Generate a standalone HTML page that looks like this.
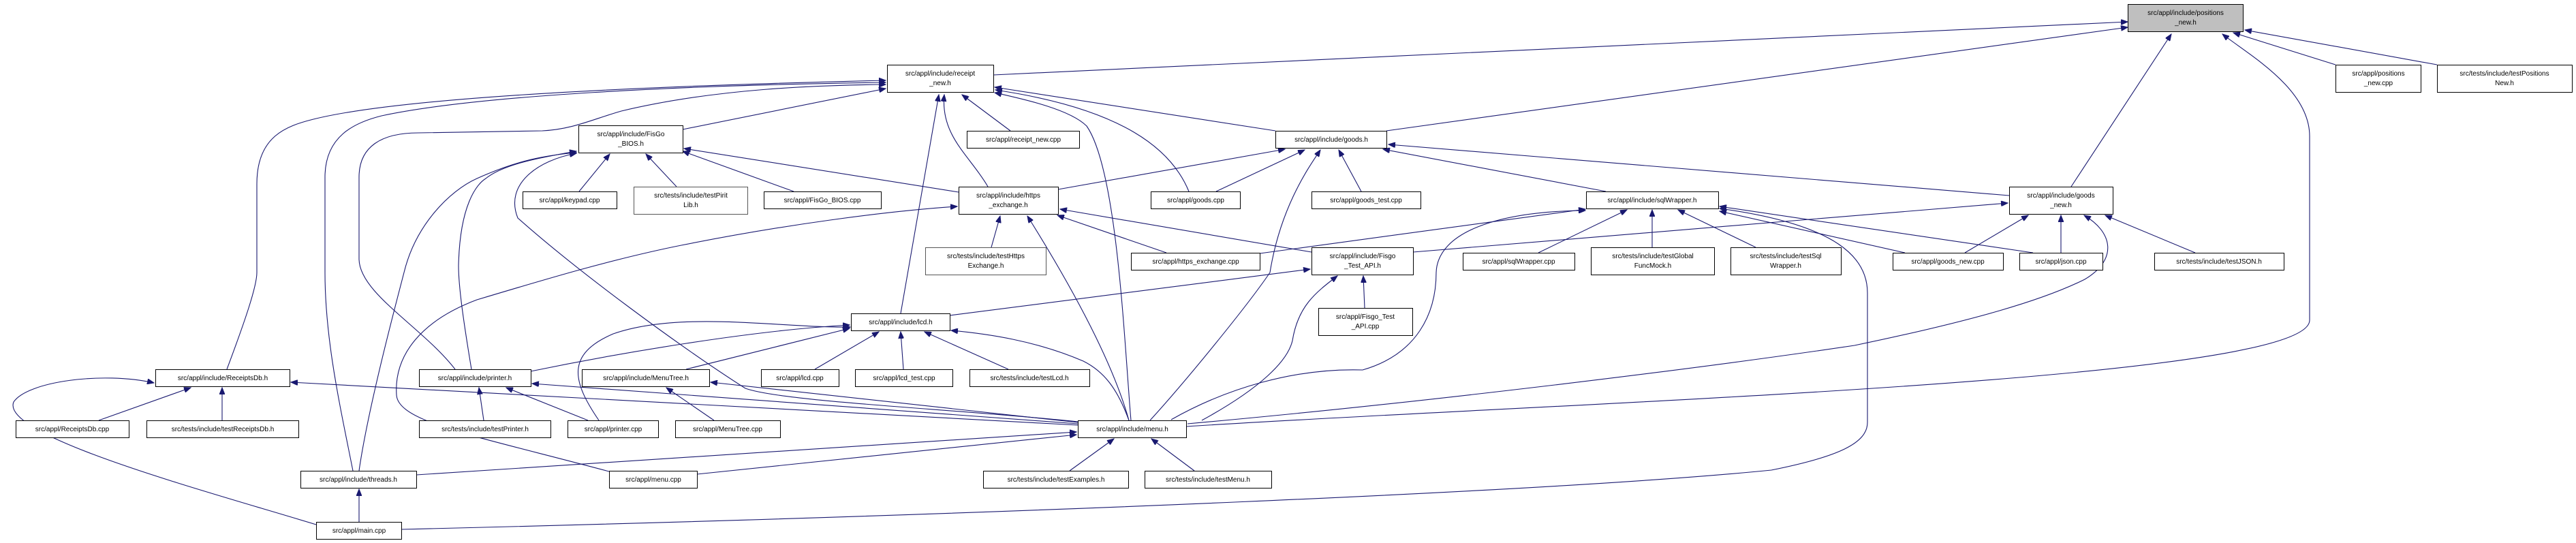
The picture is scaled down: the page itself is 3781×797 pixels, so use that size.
<!DOCTYPE html>
<html><head><meta charset="utf-8"><style>
html,body{margin:0;padding:0;background:#fff;}
svg{display:block;}
text{font-family:"Liberation Sans",sans-serif;font-size:10px;fill:#000;text-anchor:middle;}
.e{fill:none;stroke:#191970;stroke-width:1.1;marker-end:url(#a);}
.n{fill:#fff;stroke:#000;stroke-width:1;}
</style></head><body>
<svg width="3781" height="797" viewBox="0 0 3781 797" xmlns="http://www.w3.org/2000/svg">
<defs><marker id="a" markerUnits="userSpaceOnUse" markerWidth="11" markerHeight="8" refX="10" refY="4" orient="auto"><path d="M0,0 L10,4 L0,8 z" fill="#191970" stroke="#191970"/></marker></defs>
<g>
<path class="e" d="M1458,110 L3123,32"/>
<path class="e" d="M2035,192 L3123,40"/>
<path class="e" d="M3040,274 L3187,50"/>
<path class="e" d="M1741,626 C2300,590 3390,560 3390,470 L3390,200 C3390,130 3300,80 3262,50"/>
<path class="e" d="M3428,95 L3278,48"/>
<path class="e" d="M3577,95 L3295,44"/>
<path class="e" d="M1002,190 L1300,130"/>
<path class="e" d="M333,542 C360,470 377,420 377,400 L377,270 C377,200 420,185 460,175 C600,140 1000,125 1300,118"/>
<path class="e" d="M518,691 C500,600 477,500 477,400 L477,260 C477,200 520,180 560,170 C700,140 1000,125 1300,121"/>
<path class="e" d="M668,542 C620,480 527,430 527,380 L527,260 C527,215 560,195 614,195 L796,192 C840,190 870,175 912,163 C1050,130 1200,125 1300,124"/>
<path class="e" d="M1483,192 L1412,139"/>
<path class="e" d="M1322,460 L1378,139"/>
<path class="e" d="M1450,274 C1425,230 1380,200 1386,139"/>
<path class="e" d="M1872,192 L1460,128"/>
<path class="e" d="M1745,281 C1720,220 1650,160 1461,132"/>
<path class="e" d="M1660,617 C1650,500 1640,250 1595,185 C1570,160 1500,145 1460,136"/>
<path class="e" d="M850,281 L895,226"/>
<path class="e" d="M993,274 L948,226"/>
<path class="e" d="M1165,281 L1002,222"/>
<path class="e" d="M1407,282 L1004,218"/>
<path class="e" d="M692,542 C680,470 673,420 673,390 C675,300 700,270 713,262 C740,240 800,230 846,222"/>
<path class="e" d="M527,691 C540,600 580,450 593,400 C610,330 660,280 700,262 C760,235 800,228 846,224"/>
<path class="e" d="M1582,619 C1400,600 1150,590 1094,570 C1000,510 850,400 760,320 C740,270 790,235 846,225"/>
<path class="e" d="M1553,278 L1886,219"/>
<path class="e" d="M1455,363 L1468,317"/>
<path class="e" d="M1657,617 C1630,520 1560,400 1508,317"/>
<path class="e" d="M1712,371 L1552,316"/>
<path class="e" d="M1925,370 L1556,307"/>
<path class="e" d="M894,692 C700,640 585,620 582,580 C578,520 620,470 700,440 C800,410 900,380 1000,360 C1150,330 1300,310 1405,303"/>
<path class="e" d="M1785,281 L1915,220"/>
<path class="e" d="M1998,281 L1965,220"/>
<path class="e" d="M1688,617 C1740,560 1830,450 1864,400 C1880,300 1925,240 1938,220"/>
<path class="e" d="M2357,281 L2030,219"/>
<path class="e" d="M2949,287 L2038,212"/>
<path class="e" d="M1849,372 L2327,307"/>
<path class="e" d="M1719,616 C1800,570 1900,540 2000,543 C2080,520 2108,460 2108,400 C2110,340 2200,310 2327,309"/>
<path class="e" d="M2258,371 L2388,308"/>
<path class="e" d="M2425,363 L2425,308"/>
<path class="e" d="M2577,363 L2463,308"/>
<path class="e" d="M2796,371 L2524,310"/>
<path class="e" d="M2984,371 L2524,303"/>
<path class="e" d="M589,777 C1500,755 2300,720 2600,690 C2700,670 2741,650 2741,620 L2741,430 C2741,380 2700,330 2524,306"/>
<path class="e" d="M2884,371 L2977,316"/>
<path class="e" d="M3025,371 L3025,316"/>
<path class="e" d="M1743,622 C2100,590 2500,540 2722,507 C2900,470 3000,440 3060,410 C3110,380 3100,340 3059,316"/>
<path class="e" d="M3222,371 L3090,316"/>
<path class="e" d="M2074,370 L2947,298"/>
<path class="e" d="M2003,452 L2001,405"/>
<path class="e" d="M1394,463 L1923,395"/>
<path class="e" d="M1764,617 C1850,570 1890,530 1897,500 C1905,450 1930,430 1963,405"/>
<path class="e" d="M779,545 C900,520 1100,485 1247,477"/>
<path class="e" d="M1007,542 L1247,482"/>
<path class="e" d="M879,617 C840,560 830,520 900,490 C1000,455 1150,482 1248,480"/>
<path class="e" d="M1196,542 L1290,487"/>
<path class="e" d="M1326,542 L1322,487"/>
<path class="e" d="M1480,542 L1357,487"/>
<path class="e" d="M1657,617 C1640,570 1620,545 1590,530 C1520,500 1450,490 1396,485"/>
<path class="e" d="M710,617 L703,569"/>
<path class="e" d="M863,617 L743,569"/>
<path class="e" d="M1582,622 L781,563"/>
<path class="e" d="M145,617 L280,569"/>
<path class="e" d="M326,617 L326,569"/>
<path class="e" d="M464,770 C300,720 0,640 20,590 C40,560 150,545 226,562"/>
<path class="e" d="M1582,624 L427,561"/>
<path class="e" d="M1048,617 L978,569"/>
<path class="e" d="M1582,620 L1043,561"/>
<path class="e" d="M527,766 L527,718"/>
<path class="e" d="M611,697 L1580,634"/>
<path class="e" d="M1023,696 L1580,638"/>
<path class="e" d="M1570,691 L1635,644"/>
<path class="e" d="M1753,691 L1690,644"/>
</g>
<g>
<rect class="n" x="3123.5" y="6.5" width="169" height="40" style="fill:#bfbfbf"/><text x="3208" y="22">src/appl/include/positions</text><text x="3208" y="36">_new.h</text>
<rect class="n" x="3428.5" y="95.5" width="125" height="40"/><text x="3491" y="111">src/appl/positions</text><text x="3491" y="125">_new.cpp</text>
<rect class="n" x="3577.5" y="95.5" width="198" height="40"/><text x="3676" y="111">src/tests/include/testPositions</text><text x="3676" y="125">New.h</text>
<rect class="n" x="1302.5" y="95.5" width="156" height="40"/><text x="1380" y="111">src/appl/include/receipt</text><text x="1380" y="125">_new.h</text>
<rect class="n" x="1419.5" y="192.5" width="165" height="25"/><text x="1502" y="208">src/appl/receipt_new.cpp</text>
<rect class="n" x="1872.5" y="192.5" width="163" height="25"/><text x="1954" y="208">src/appl/include/goods.h</text>
<rect class="n" x="849.5" y="184.5" width="153" height="40"/><text x="926" y="200">src/appl/include/FisGo</text><text x="926" y="214">_BIOS.h</text>
<rect class="n" x="767.5" y="281.5" width="138" height="25"/><text x="836" y="297">src/appl/keypad.cpp</text>
<rect class="n" x="930.5" y="274.5" width="167" height="40" style="stroke:#555"/><text x="1014" y="290">src/tests/include/testPirit</text><text x="1014" y="304">Lib.h</text>
<rect class="n" x="1121.5" y="281.5" width="172" height="25"/><text x="1207" y="297">src/appl/FisGo_BIOS.cpp</text>
<rect class="n" x="1407.5" y="274.5" width="146" height="40"/><text x="1480" y="290">src/appl/include/https</text><text x="1480" y="304">_exchange.h</text>
<rect class="n" x="1689.5" y="281.5" width="131" height="25"/><text x="1755" y="297">src/appl/goods.cpp</text>
<rect class="n" x="1925.5" y="281.5" width="160" height="25"/><text x="2005" y="297">src/appl/goods_test.cpp</text>
<rect class="n" x="2328.5" y="281.5" width="194" height="25"/><text x="2425" y="297">src/appl/include/sqlWrapper.h</text>
<rect class="n" x="2949.5" y="274.5" width="152" height="40"/><text x="3025" y="290">src/appl/include/goods</text><text x="3025" y="304">_new.h</text>
<rect class="n" x="1358.5" y="363.5" width="177" height="40" style="stroke:#555"/><text x="1447" y="379">src/tests/include/testHttps</text><text x="1447" y="393">Exchange.h</text>
<rect class="n" x="1660.5" y="371.5" width="189" height="25"/><text x="1755" y="387">src/appl/https_exchange.cpp</text>
<rect class="n" x="1925.5" y="363.5" width="149" height="40"/><text x="2000" y="379">src/appl/include/Fisgo</text><text x="2000" y="393">_Test_API.h</text>
<rect class="n" x="2147.5" y="371.5" width="164" height="25"/><text x="2229" y="387">src/appl/sqlWrapper.cpp</text>
<rect class="n" x="2335.5" y="363.5" width="181" height="40"/><text x="2426" y="379">src/tests/include/testGlobal</text><text x="2426" y="393">FuncMock.h</text>
<rect class="n" x="2540.5" y="363.5" width="162" height="40"/><text x="2621" y="379">src/tests/include/testSql</text><text x="2621" y="393">Wrapper.h</text>
<rect class="n" x="2778.5" y="371.5" width="162" height="25"/><text x="2859" y="387">src/appl/goods_new.cpp</text>
<rect class="n" x="2964.5" y="371.5" width="122" height="25"/><text x="3025" y="387">src/appl/json.cpp</text>
<rect class="n" x="3162.5" y="371.5" width="190" height="25"/><text x="3257" y="387">src/tests/include/testJSON.h</text>
<rect class="n" x="1249.5" y="460.5" width="145" height="25"/><text x="1322" y="476">src/appl/include/lcd.h</text>
<rect class="n" x="1935.5" y="452.5" width="138" height="40"/><text x="2004" y="468">src/appl/Fisgo_Test</text><text x="2004" y="482">_API.cpp</text>
<rect class="n" x="228.5" y="542.5" width="197" height="25"/><text x="327" y="558">src/appl/include/ReceiptsDb.h</text>
<rect class="n" x="615.5" y="542.5" width="164" height="25"/><text x="697" y="558">src/appl/include/printer.h</text>
<rect class="n" x="854.5" y="542.5" width="187" height="25"/><text x="948" y="558">src/appl/include/MenuTree.h</text>
<rect class="n" x="1117.5" y="542.5" width="114" height="25"/><text x="1174" y="558">src/appl/lcd.cpp</text>
<rect class="n" x="1255.5" y="542.5" width="143" height="25"/><text x="1327" y="558">src/appl/lcd_test.cpp</text>
<rect class="n" x="1423.5" y="542.5" width="176" height="25"/><text x="1511" y="558">src/tests/include/testLcd.h</text>
<rect class="n" x="23.5" y="617.5" width="166" height="25"/><text x="106" y="633">src/appl/ReceiptsDb.cpp</text>
<rect class="n" x="215.5" y="617.5" width="223" height="25"/><text x="327" y="633">src/tests/include/testReceiptsDb.h</text>
<rect class="n" x="615.5" y="617.5" width="193" height="25"/><text x="712" y="633">src/tests/include/testPrinter.h</text>
<rect class="n" x="833.5" y="617.5" width="133" height="25"/><text x="900" y="633">src/appl/printer.cpp</text>
<rect class="n" x="991.5" y="617.5" width="154" height="25"/><text x="1068" y="633">src/appl/MenuTree.cpp</text>
<rect class="n" x="1582.5" y="617.5" width="159" height="25"/><text x="1662" y="633">src/appl/include/menu.h</text>
<rect class="n" x="441.5" y="691.5" width="170" height="25"/><text x="526" y="707">src/appl/include/threads.h</text>
<rect class="n" x="894.5" y="691.5" width="129" height="25"/><text x="959" y="707">src/appl/menu.cpp</text>
<rect class="n" x="1443.5" y="691.5" width="213" height="25"/><text x="1550" y="707">src/tests/include/testExamples.h</text>
<rect class="n" x="1680.5" y="691.5" width="186" height="25"/><text x="1773" y="707">src/tests/include/testMenu.h</text>
<rect class="n" x="464.5" y="766.5" width="125" height="25"/><text x="527" y="782">src/appl/main.cpp</text>
</g>
</svg>
</body></html>
